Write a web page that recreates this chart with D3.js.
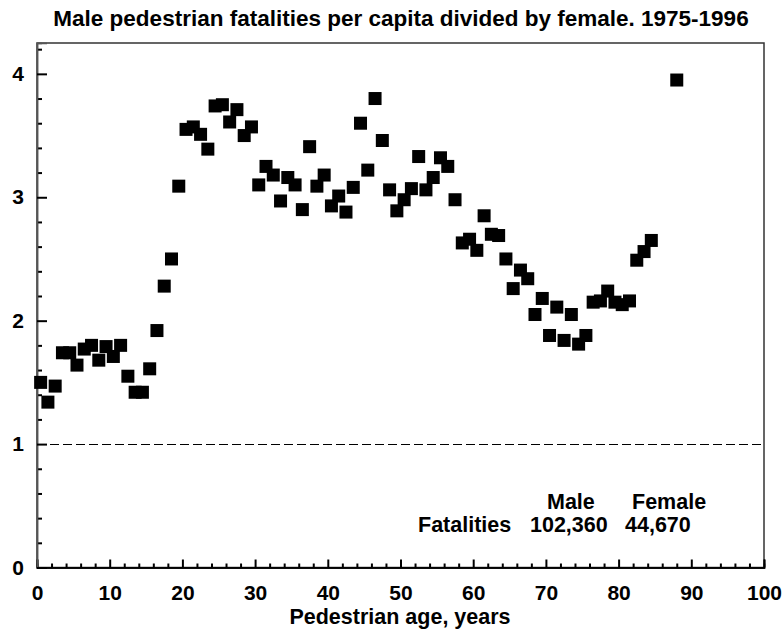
<!DOCTYPE html>
<html>
<head>
<meta charset="utf-8">
<script src="https://cdn.jsdelivr.net/npm/d3@7"></script>
<style>
  html, body { margin: 0; padding: 0; background: #fff; }
  svg { display: block; font-family: "Liberation Sans", Arial, sans-serif; font-weight: bold; }
</style>
</head>
<body>
<svg id="chart" width="782" height="633"></svg>
<script>
// ---- data ----
const ages = [0,1,2,3,4,5,6,7,8,9,10,11,12,13,14,15,16,17,18,19,20,21,22,23,24,25,26,27,28,29,
  30,31,32,33,34,35,36,37,38,39,40,41,42,43,44,45,46,47,48,49,50,51,52,53,54,55,56,57,58,59,
  60,61,62,63,64,65,66,67,68,69,70,71,72,73,74,75,76,77,78,79,80,81,82,83,84,87.5];
const ratio = [1.50,1.34,1.47,1.74,1.74,1.64,1.77,1.80,1.68,1.79,1.71,1.80,1.55,1.42,1.42,1.61,1.92,2.28,2.50,3.09,
  3.55,3.57,3.51,3.39,3.74,3.75,3.61,3.71,3.50,3.57,3.10,3.25,3.18,2.97,3.16,3.10,2.90,3.41,3.09,3.18,
  2.93,3.01,2.88,3.08,3.60,3.22,3.80,3.46,3.06,2.89,2.98,3.07,3.33,3.06,3.16,3.32,3.25,2.98,2.63,2.66,
  2.57,2.85,2.70,2.69,2.50,2.26,2.41,2.34,2.05,2.18,1.88,2.11,1.84,2.05,1.81,1.88,2.15,2.16,2.24,2.15,
  2.13,2.16,2.49,2.56,2.65,3.95];
const xMajorTicks = [0,10,20,30,40,50,60,70,80,90,100];
const xMinorTicks = [2,4,6,8,12,14,16,18,22,24,26,28,32,34,36,38,42,44,46,48,52,54,56,58,62,64,66,68,72,74,76,78,82,84,86,88,92,94,96,98];
const yMajorTicks = [0,1,2,3,4];
const yMinorTicks = [0.2,0.4,0.6,0.8,1.2,1.4,1.6,1.8,2.2,2.4,2.6,2.8,3.2,3.4,3.6,3.8,4.2];
const referenceLevel = 1;
const titleText = "Male pedestrian fatalities per capita divided by female. 1975-1996";
const xTitle = "Pedestrian age, years";
const tableHeader = ["Male", "Female"];
const tableRow = ["Fatalities", "102,360", "44,670"];

// ---- layout ----
const svg = d3.select("#chart");
const L = 37, R = 764, T = 43, B = 567.5;
const x = d3.scaleLinear().domain([0, 100]).range([L, R]);
const y = d3.scaleLinear().domain([0, 4.25]).range([B, T]);

// title
svg.append("text").attr("x", 401).attr("y", 26).attr("text-anchor", "middle")
  .attr("font-size", 22.5).text(titleText);

// frame
svg.append("rect").attr("x", L).attr("y", T).attr("width", R - L).attr("height", B - T)
  .attr("fill", "none").attr("stroke", "#333").attr("stroke-width", 1.5);

// reference dashed line
const yRef = Math.round(y(referenceLevel)) + 0.5;
svg.append("line").attr("x1", L).attr("x2", R)
  .attr("y1", yRef).attr("y2", yRef)
  .attr("stroke", "#000").attr("stroke-width", 1).attr("stroke-dasharray", "9,4")
  .attr("shape-rendering", "crispEdges");

// x axis
const gxMinor = svg.append("g").attr("transform", `translate(0,${B})`)
  .call(d3.axisBottom(x).tickValues(xMinorTicks).tickSize(-4).tickFormat(""));
const gx = svg.append("g").attr("transform", `translate(0,${B})`)
  .call(d3.axisBottom(x).tickValues(xMajorTicks).tickSize(-8).tickPadding(18).tickFormat(d3.format("d")));
[gxMinor, gx].forEach(g => {
  g.select(".domain").attr("stroke", "#000").attr("stroke-width", 1.5);
  g.selectAll(".tick line").attr("stroke", "#000").attr("stroke-width", 2);
});
gx.selectAll("text").attr("font-size", 21).attr("font-weight", "bold")
  .attr("font-family", "Liberation Sans, Arial, sans-serif").attr("fill", "#000");

// y axis
const gyMinor = svg.append("g").attr("transform", `translate(${L},0)`)
  .call(d3.axisLeft(y).tickValues(yMinorTicks).tickSize(-5).tickFormat(""));
const gy = svg.append("g").attr("transform", `translate(${L},0)`)
  .call(d3.axisLeft(y).tickValues(yMajorTicks).tickSize(-10).tickPadding(13).tickFormat(d3.format("d")));
[gyMinor, gy].forEach(g => {
  g.select(".domain").attr("stroke", "#555").attr("stroke-width", 1.5);
  g.selectAll(".tick line").attr("stroke", "#000").attr("stroke-width", 2);
});
gy.selectAll("text").attr("font-size", 21).attr("font-weight", "bold")
  .attr("font-family", "Liberation Sans, Arial, sans-serif").attr("fill", "#000");

// x title
svg.append("text").attr("x", 400).attr("y", 624).attr("text-anchor", "middle")
  .attr("font-size", 21.5).text(xTitle);

// points
const S = 13;
svg.append("g").selectAll("rect").data(ages.map((a, i) => ({a, v: ratio[i]})))
  .join("rect")
  .attr("x", d => x(d.a + 0.5) - S / 2)
  .attr("y", d => y(d.v) - S / 2)
  .attr("width", S).attr("height", S)
  .attr("fill", "#000");

// table annotation
const tg = svg.append("g").attr("font-size", 21.5);
tg.append("text").attr("x", 547).attr("y", 509).text(tableHeader[0]);
tg.append("text").attr("x", 632).attr("y", 509).text(tableHeader[1]);
tg.append("text").attr("x", 418).attr("y", 532).text(tableRow[0]);
tg.append("text").attr("x", 530).attr("y", 532).text(tableRow[1]);
tg.append("text").attr("x", 625).attr("y", 532).text(tableRow[2]);
</script>
</body>
</html>
